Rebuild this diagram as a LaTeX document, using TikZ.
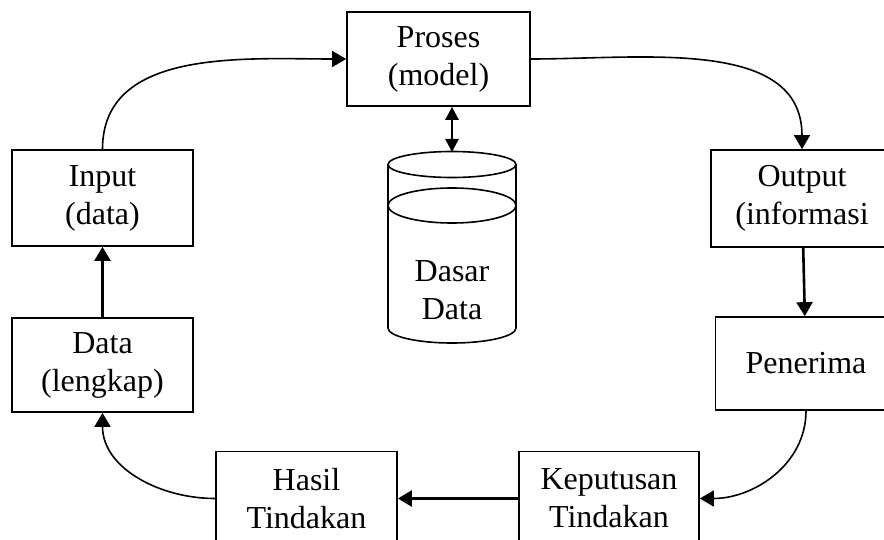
\documentclass[tikz,border=0pt]{standalone}
\usepackage{fontspec}
\setmainfont{Liberation Serif}
\usetikzlibrary{arrows.meta}
\begin{document}
\begin{tikzpicture}[x=0.5pt,y=-0.5pt,
  txt/.style={font=\fontsize{16}{19}\selectfont,align=center},
  box/.style={txt,draw,line width=0.85pt,rectangle,inner sep=0pt},
  link/.style={line width=1.3pt,-{Triangle[length=7pt,width=8pt]}},
  curvelink/.style={line width=0.8pt,-{Triangle[length=7pt,width=8pt]}},
  duallink/.style={line width=1.2pt,{Triangle[length=6.5pt,width=6.5pt]}-{Triangle[length=6.5pt,width=6.5pt]}}]
\path[use as bounding box,clip] (0,0) rectangle (884,540);

% process boxes
\node[box,minimum width=91.5pt,minimum height=47pt] (proses) at (438.5,59) {Proses\\(model)};
\node[box,minimum width=90.5pt,minimum height=48pt] (input) at (102.5,198) {Input\\(data)};
\node[box,minimum width=90.5pt,minimum height=47pt] (data) at (102.5,365) {Data\\(lengkap)};
\node[box,minimum width=91pt,minimum height=48.5pt] (output) at (802,198.5) {Output\\(informasi};
\node[box,minimum width=90.5pt,minimum height=46.5pt] (penerima) at (806,363.5) {Penerima};
\node[box,minimum width=90.5pt,minimum height=47pt] (hasil) at (306.5,498.5) {Hasil\\Tindakan};
\node[box,minimum width=90pt,minimum height=47pt] (keputusan) at (609,498.5) {Keputusan\\Tindakan};

% database cylinder
\draw[line width=0.8pt] (388,164.5) -- (388,328)
  arc[start angle=180,end angle=360,x radius=32pt,y radius=7.5pt] -- (516,164.5);
\draw[line width=0.8pt,fill=white] (452,164.5) ellipse[x radius=32pt,y radius=6.5pt];
\draw[line width=0.8pt] (452,205.5) ellipse[x radius=32pt,y radius=8.75pt];
\node[txt] (dasar) at (452,290) {Dasar\\Data};
\coordinate (dbtop) at (452,152);

% connectors
\draw[duallink] (dbtop |- proses.south) -- (dbtop);
\draw[curvelink] (input.north) to[out=90,in=180] (proses.west);
\draw[curvelink] (proses.east) to[out=0,in=90] (output.north);
\draw[link] (output) -- (penerima);
\draw[curvelink] (penerima.south) to[out=-90,in=0] (keputusan.east);
\draw[link] (keputusan) -- (hasil);
\draw[curvelink] (hasil.west) to[out=180,in=-90] (data.south);
\draw[link] (data) -- (input);
\end{tikzpicture}
\end{document}
